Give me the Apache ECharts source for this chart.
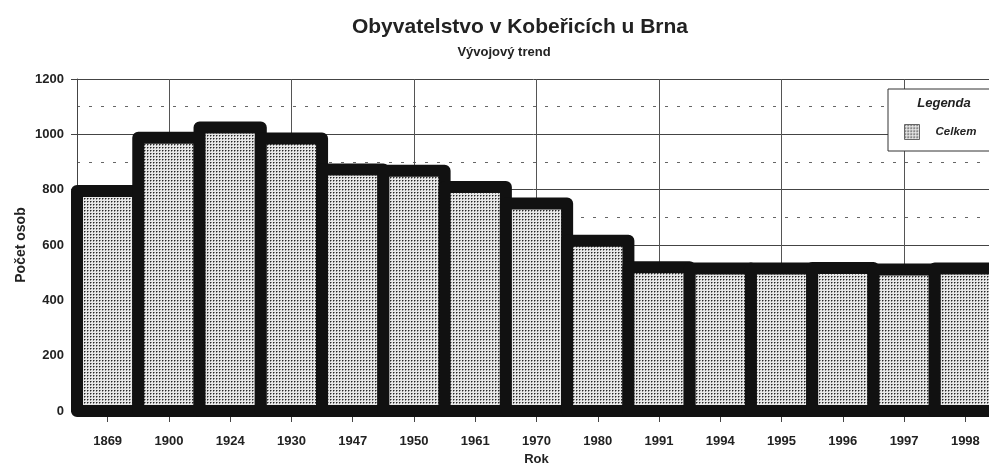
<!DOCTYPE html>
<html>
<head>
<meta charset="utf-8">
<script src="https://cdn.jsdelivr.net/npm/echarts@6/dist/echarts.min.js"></script>
<style>
html,body{margin:0;padding:0;background:#fff;}
#chart{width:989px;height:466px;}
</style>
</head>
<body>
<div id="chart"></div>
<script>
const years = ['1869','1900','1924','1930','1947','1950','1961','1970','1980','1991','1994','1995','1996','1997','1998'];
const celkem = [795, 988, 1025, 985, 873, 868, 810, 750, 615, 520, 515, 515, 517, 511, 515];
const yTicks = {min: 0, max: 1200, interval: 200};

const FONT = '"Liberation Sans", Arial, sans-serif';

const pat = document.createElement('canvas');
pat.width = 3; pat.height = 3;
const pc = pat.getContext('2d');
pc.fillStyle = '#e8e8e8'; pc.fillRect(0,0,3,3);
pc.fillStyle = '#8c8c8c'; pc.fillRect(1,0,1,1); pc.fillRect(0,1,1,1);
pc.fillStyle = '#262626'; pc.fillRect(0,0,1,1);
const fill = {image: pat, repeat: 'repeat'};

const chart = echarts.init(document.getElementById('chart'));
chart.setOption({
  animation: false,
  backgroundColor: '#fff',
  title: [
    {text: 'Obyvatelstvo v Kobeřicích u Brna', left: 520, top: 17, textAlign: 'center', padding: 0,
     textStyle: {fontFamily: FONT, fontWeight: 'bold', fontSize: 21, color: '#222'}},
    {text: 'Vývojový trend', left: 504, top: 46, textAlign: 'center', padding: 0,
     textStyle: {fontFamily: FONT, fontWeight: 'bold', fontSize: 13, color: '#222'}},
    {text: 'Legenda', left: 944, top: 97, textAlign: 'center', padding: 0, z: 20,
     textStyle: {fontFamily: FONT, fontWeight: 'bold', fontStyle: 'italic', fontSize: 13, color: '#222'}}
  ],
  legend: {
    left: 888, top: 89, orient: 'vertical',
    padding: [35, 30, 11, 16],
    borderColor: '#333', borderWidth: 1, backgroundColor: '#fff',
    itemWidth: 15, itemHeight: 15, icon: 'rect',
    itemStyle: {color: fill, borderWidth: 1, borderColor: '#666'},
    textStyle: {fontFamily: FONT, fontWeight: 'bold', fontStyle: 'italic', fontSize: 11.5, color: '#222', padding: [0,0,0,11]},
    data: ['Celkem']
  },
  grid: {left: 77, top: 79, width: 919, height: 332, containLabel: false, outerBoundsMode: 'none'},
  xAxis: {
    type: 'category', data: years, boundaryGap: true,
    name: 'Rok', nameLocation: 'middle', nameGap: 42, nameMoveOverlap: false,
    nameTextStyle: {fontFamily: FONT, fontWeight: 'bold', fontSize: 13, color: '#222'},
    axisLine: {show: true, lineStyle: {color: '#222', width: 1}},
    axisTick: {show: true, alignWithLabel: true, length: 11, lineStyle: {color: '#444'}},
    axisLabel: {fontFamily: FONT, fontWeight: 'bold', fontSize: 13, color: '#222', margin: 24, interval: 0},
    splitLine: {show: true, alignWithLabel: true, interval: function (i) { return i % 2 === 1; }, lineStyle: {color: '#555', width: 1}}
  },
  yAxis: {
    type: 'value', min: yTicks.min, max: yTicks.max, interval: yTicks.interval,
    name: 'Počet osob', nameLocation: 'middle', nameGap: 49, nameMoveOverlap: false,
    nameTextStyle: {fontFamily: FONT, fontWeight: 'bold', fontSize: 14, color: '#222'},
    axisLine: {show: true, lineStyle: {color: '#444', width: 1}},
    axisTick: {show: true, length: 6, lineStyle: {color: '#444'}},
    axisLabel: {fontFamily: FONT, fontWeight: 'bold', fontSize: 13, color: '#222', margin: 13,
                formatter: function (v) { return String(v); }},
    splitLine: {show: true, lineStyle: {color: '#444', width: 1}},
    minorTick: {show: false, splitNumber: 2},
    minorSplitLine: {show: true, lineStyle: {color: '#666', width: 1, type: [3, 9]}}
  },
  series: [{
    name: 'Celkem', type: 'custom', clip: false,
    data: celkem.map(function (v, i) { return [i, v]; }),
    encode: {x: 0, y: 1},
    itemStyle: {color: fill},
    renderItem: function (params, api) {
      const i = api.value(0), v = api.value(1);
      const top = api.coord([i, v]);
      const base = api.coord([i, 0]);
      const w = api.size([1, 0])[0];
      return {
        type: 'rect',
        shape: {x: top[0] - w / 2, y: top[1], width: w, height: base[1] - top[1]},
        style: {fill: fill, stroke: '#111', lineWidth: 12, lineJoin: 'round'}
      };
    }
  }]
});
</script>
</body>
</html>
